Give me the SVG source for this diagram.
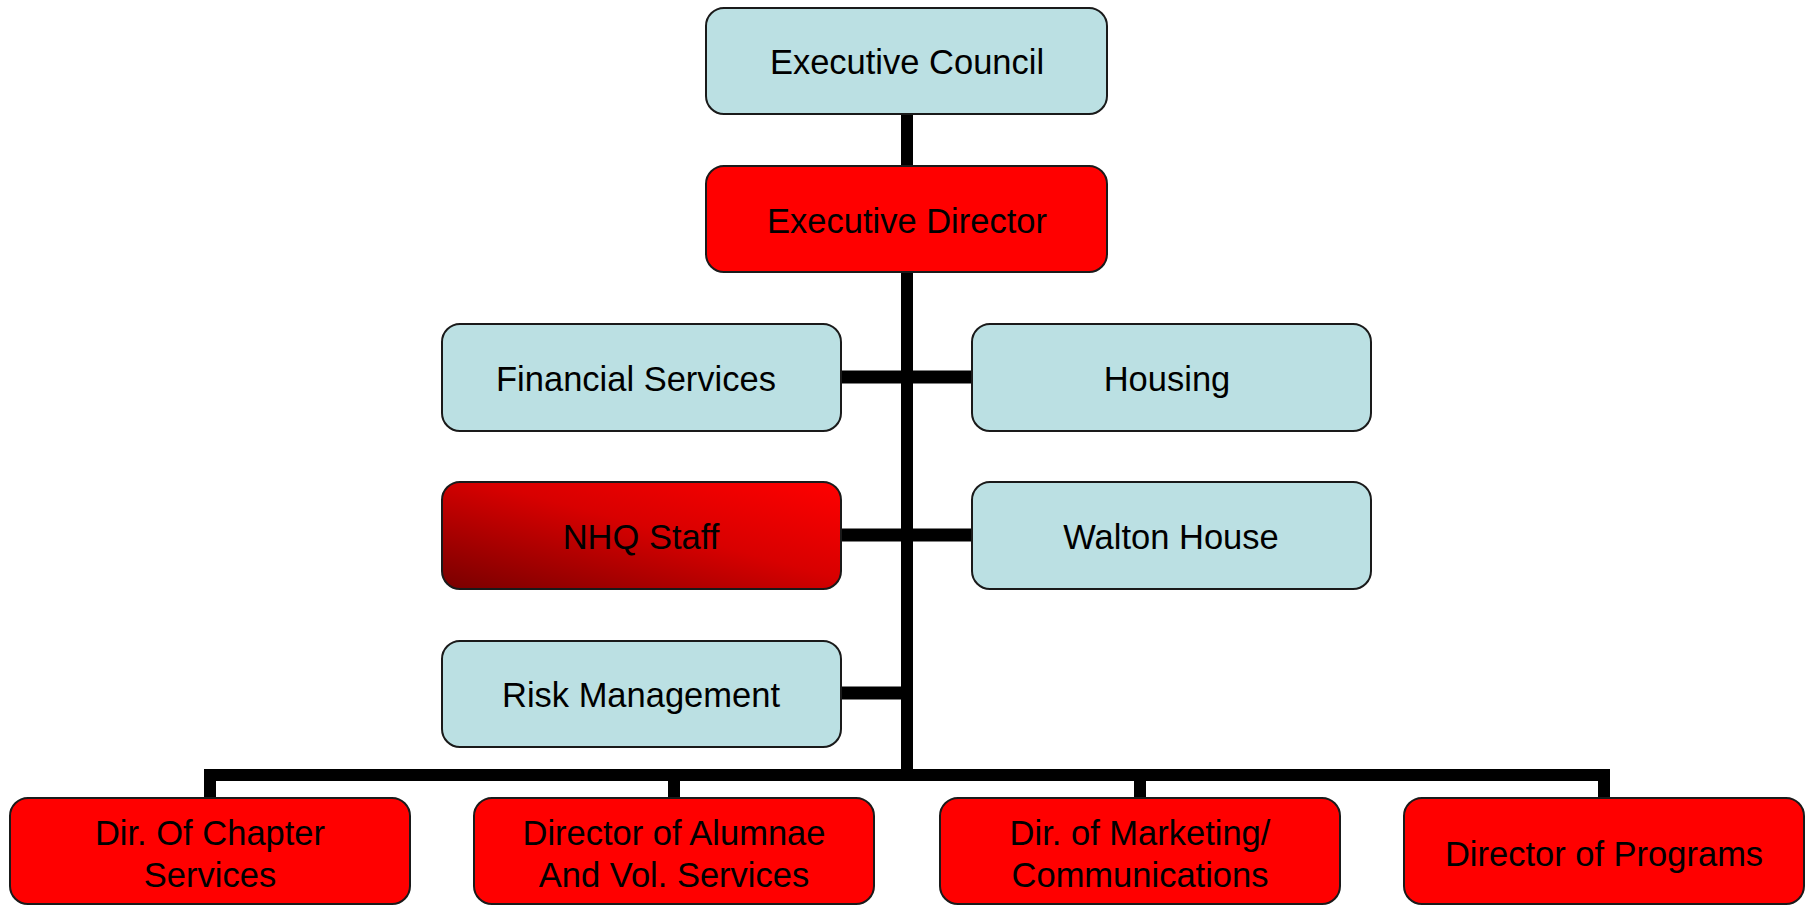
<svg xmlns="http://www.w3.org/2000/svg" width="1810" height="906" viewBox="0 0 1810 906">
<style>
.box{stroke:#1a1a1a;stroke-width:2}
.blue{fill:#BBE0E3}
.red{fill:#FF0000}
.lbl{font-family:"Liberation Sans",Arial,sans-serif;font-size:34.5px;fill:#000;text-anchor:middle}
.conn{fill:none;stroke:#000;stroke-width:12;stroke-linecap:butt;stroke-linejoin:miter}
.side{fill:none;stroke:#000;stroke-width:13;stroke-linecap:butt}
</style>
<defs>
<linearGradient id="nhq" x1="0" y1="1" x2="1" y2="0">
<stop offset="0" stop-color="#780000"/>
<stop offset="0.55" stop-color="#D80000"/>
<stop offset="1" stop-color="#FF0000"/>
</linearGradient>
</defs>
<rect width="1810" height="906" fill="#fff"/>
<g id="connectors">
<path class="conn" d="M907 114 V781"/>
<path class="conn" d="M210 798 V775 H1604 V798"/>
<path class="conn" d="M674 798 V775"/>
<path class="conn" d="M1140 798 V775"/>
<path class="side" d="M841 377 H972"/>
<path class="side" d="M841 535 H972"/>
<path class="side" d="M841 693 H907"/>
</g>
<g id="executive-council"><rect class="box blue" x="706" y="8" width="401" height="106" rx="18"/><text class="lbl" x="907" y="74">Executive Council</text></g>
<g id="executive-director"><rect class="box red" x="706" y="166" width="401" height="106" rx="18"/><text class="lbl" x="907" y="233">Executive Director</text></g>
<g id="financial-services"><rect class="box blue" x="442" y="324" width="399" height="107" rx="18"/><text class="lbl" x="636" y="391">Financial Services</text></g>
<g id="housing"><rect class="box blue" x="972" y="324" width="399" height="107" rx="18"/><text class="lbl" x="1167" y="391">Housing</text></g>
<g id="nhq-staff"><rect class="box" fill="url(#nhq)" x="442" y="482" width="399" height="107" rx="18"/><text class="lbl" x="641" y="549">NHQ Staff</text></g>
<g id="walton-house"><rect class="box blue" x="972" y="482" width="399" height="107" rx="18"/><text class="lbl" x="1171" y="549">Walton House</text></g>
<g id="risk-management"><rect class="box blue" x="442" y="641" width="399" height="106" rx="18"/><text class="lbl" x="641" y="707">Risk Management</text></g>
<g id="dir-chapter"><rect class="box red" x="10" y="798" width="400" height="106" rx="18"/><text class="lbl" x="210" y="845">Dir. Of Chapter</text><text class="lbl" x="210" y="887">Services</text></g>
<g id="dir-alumnae"><rect class="box red" x="474" y="798" width="400" height="106" rx="18"/><text class="lbl" x="674" y="845">Director of Alumnae</text><text class="lbl" x="674" y="887">And Vol. Services</text></g>
<g id="dir-marketing"><rect class="box red" x="940" y="798" width="400" height="106" rx="18"/><text class="lbl" x="1140" y="845">Dir. of Marketing/</text><text class="lbl" x="1140" y="887">Communications</text></g>
<g id="dir-programs"><rect class="box red" x="1404" y="798" width="400" height="106" rx="18"/><text class="lbl" x="1604" y="866">Director of Programs</text></g>
</svg>
